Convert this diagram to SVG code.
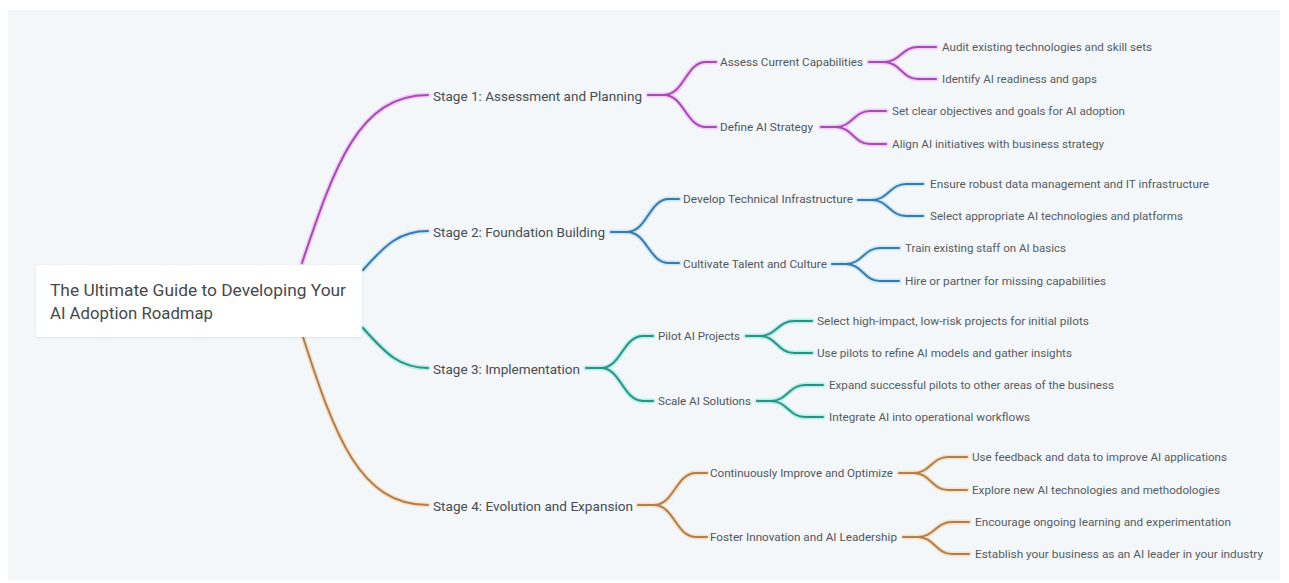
<svg xmlns="http://www.w3.org/2000/svg" xmlns:xlink="http://www.w3.org/1999/xlink" width="1289" height="583" viewBox="0 0 1289 583">
<style>
text{font-family:Roboto,"Liberation Sans",Arial,sans-serif;}
.root{font-size:16px;fill:#45494e;}
.stage{font-size:13px;fill:#474c52;}
.sub{font-size:10.5px;fill:#50565c;}
.leaf{font-size:10.5px;fill:#565c62;}
.halo use, .core use{fill:none;stroke-linecap:round;stroke-linejoin:round;}
.halo{stroke-width:5;stroke-opacity:0.35;fill:none;}
.core{stroke-width:2;fill:none;}
.halo.p{stroke:#f07cf0}.core.p{stroke:#a54cb5}
.halo.b{stroke:#78c8f2}.core.b{stroke:#3d78a6}
.halo.t{stroke:#3de0c6}.core.t{stroke:#2e9282}
.halo.o{stroke:#ffb860}.core.o{stroke:#ad7f52}
</style>
<defs>
<filter id="shadow" x="-10%" y="-20%" width="120%" height="150%">
<feDropShadow dx="0" dy="1" stdDeviation="1.5" flood-color="#000" flood-opacity="0.08"/>
</filter>
<path id="m1" d="M302,263 C334,168 358,95 428,95"/>
<path id="m2" d="M363,270 C386,244 400,231 428,231"/>
<path id="m3" d="M363,328 C386,354 400,368 428,368"/>
<path id="m4" d="M303,337 C335,437 360,505 428,505"/>
<path id="s1" d="M648,95 H664 C684,95 686,62 706,62 H716 M664,95 C684,95 686,127 706,127 H716"/>
<path id="s2" d="M611,232 H627 C647,232 649,199 669,199 H679 M627,232 C647,232 649,263 669,263 H679"/>
<path id="s3" d="M586,368 H601 C621,368 623,336 643,336 H653 M601,368 C621,368 623,401 643,401 H653"/>
<path id="s4" d="M638,505 H654 C674,505 676,473 696,473 H707 M654,505 C674,505 676,537 696,537 H707"/>
<path id="a" d="M869,62 H884 C900,62 902,47 918,47 H936 M884,62 C900,62 902,79 918,79 H936"/>
<path id="bb" d="M821,127 H836 C852,127 854,111 870,111 H886 M836,127 C852,127 854,144 870,144 H886"/>
<path id="c" d="M858,200 H872 C888,200 890,184 906,184 H923 M872,200 C888,200 890,216 906,216 H923"/>
<path id="d" d="M832,264 H846 C862,264 864,248 880,248 H899 M846,264 C862,264 864,281 880,281 H899"/>
<path id="e" d="M746,336 H760 C776,336 778,321 794,321 H812 M760,336 C776,336 778,353 794,353 H812"/>
<path id="f" d="M757,401 H771 C787,401 789,385 805,385 H823 M771,401 C787,401 789,417 805,417 H823"/>
<path id="g" d="M899,473 H914 C930,473 932,457 948,457 H967 M914,473 C930,473 932,490 948,490 H967"/>
<path id="h" d="M903,537 H918 C934,537 936,522 952,522 H969 M918,537 C934,537 936,554 952,554 H969"/>
</defs>
<rect x="0" y="0" width="1289" height="583" fill="#ffffff"/>
<rect x="8" y="10" width="1272" height="570" fill="#f3f7fa"/>
<g id="connectors">
<g class="halo p"><use href="#m1"/><use href="#s1"/><use href="#a"/><use href="#bb"/></g>
<g class="core p"><use href="#m1"/><use href="#s1"/><use href="#a"/><use href="#bb"/></g>
<g class="halo b"><use href="#m2"/><use href="#s2"/><use href="#c"/><use href="#d"/></g>
<g class="core b"><use href="#m2"/><use href="#s2"/><use href="#c"/><use href="#d"/></g>
<g class="halo t"><use href="#m3"/><use href="#s3"/><use href="#e"/><use href="#f"/></g>
<g class="core t"><use href="#m3"/><use href="#s3"/><use href="#e"/><use href="#f"/></g>
<g class="halo o"><use href="#m4"/><use href="#s4"/><use href="#g"/><use href="#h"/></g>
<g class="core o"><use href="#m4"/><use href="#s4"/><use href="#g"/><use href="#h"/></g>
</g>
<g id="root">
<rect x="36" y="265" width="326" height="72" rx="3" fill="#ffffff" filter="url(#shadow)"/>
<text class="root" x="50" y="296" textLength="296" lengthAdjust="spacingAndGlyphs">The Ultimate Guide to Developing Your</text>
<text class="root" x="50" y="319" textLength="163" lengthAdjust="spacingAndGlyphs">AI Adoption Roadmap</text>
</g>
<g id="stage1"><text class="stage" x="433" y="100.5" textLength="209" lengthAdjust="spacingAndGlyphs">Stage 1: Assessment and Planning</text></g>
<g id="stage2"><text class="stage" x="433" y="236.5" textLength="172" lengthAdjust="spacingAndGlyphs">Stage 2: Foundation Building</text></g>
<g id="stage3"><text class="stage" x="433" y="373.5" textLength="147" lengthAdjust="spacingAndGlyphs">Stage 3: Implementation</text></g>
<g id="stage4"><text class="stage" x="433" y="510.5" textLength="200" lengthAdjust="spacingAndGlyphs">Stage 4: Evolution and Expansion</text></g>
<g id="s1a"><text class="sub" x="720" y="65.7" textLength="143" lengthAdjust="spacingAndGlyphs">Assess Current Capabilities</text></g>
<g id="s1b"><text class="sub" x="720" y="130.7" textLength="93" lengthAdjust="spacingAndGlyphs">Define AI Strategy</text></g>
<g id="s2a"><text class="sub" x="683" y="202.7" textLength="170" lengthAdjust="spacingAndGlyphs">Develop Technical Infrastructure</text></g>
<g id="s2b"><text class="sub" x="683" y="267.7" textLength="144" lengthAdjust="spacingAndGlyphs">Cultivate Talent and Culture</text></g>
<g id="s3a"><text class="sub" x="658" y="339.7" textLength="82" lengthAdjust="spacingAndGlyphs">Pilot AI Projects</text></g>
<g id="s3b"><text class="sub" x="658" y="404.7" textLength="93" lengthAdjust="spacingAndGlyphs">Scale AI Solutions</text></g>
<g id="s4a"><text class="sub" x="710" y="476.7" textLength="183" lengthAdjust="spacingAndGlyphs">Continuously Improve and Optimize</text></g>
<g id="s4b"><text class="sub" x="710" y="540.7" textLength="187" lengthAdjust="spacingAndGlyphs">Foster Innovation and AI Leadership</text></g>
<g id="l1"><text class="leaf" x="942" y="50.7" textLength="210" lengthAdjust="spacingAndGlyphs">Audit existing technologies and skill sets</text></g>
<g id="l2"><text class="leaf" x="942" y="82.7" textLength="155" lengthAdjust="spacingAndGlyphs">Identify AI readiness and gaps</text></g>
<g id="l3"><text class="leaf" x="892" y="114.7" textLength="233" lengthAdjust="spacingAndGlyphs">Set clear objectives and goals for AI adoption</text></g>
<g id="l4"><text class="leaf" x="892" y="147.7" textLength="212" lengthAdjust="spacingAndGlyphs">Align AI initiatives with business strategy</text></g>
<g id="l5"><text class="leaf" x="930" y="187.7" textLength="279" lengthAdjust="spacingAndGlyphs">Ensure robust data management and IT infrastructure</text></g>
<g id="l6"><text class="leaf" x="930" y="219.7" textLength="253" lengthAdjust="spacingAndGlyphs">Select appropriate AI technologies and platforms</text></g>
<g id="l7"><text class="leaf" x="905" y="251.7" textLength="161" lengthAdjust="spacingAndGlyphs">Train existing staff on AI basics</text></g>
<g id="l8"><text class="leaf" x="905" y="284.7" textLength="201" lengthAdjust="spacingAndGlyphs">Hire or partner for missing capabilities</text></g>
<g id="l9"><text class="leaf" x="817" y="324.7" textLength="272" lengthAdjust="spacingAndGlyphs">Select high-impact, low-risk projects for initial pilots</text></g>
<g id="l10"><text class="leaf" x="817" y="356.7" textLength="255" lengthAdjust="spacingAndGlyphs">Use pilots to refine AI models and gather insights</text></g>
<g id="l11"><text class="leaf" x="829" y="388.7" textLength="285" lengthAdjust="spacingAndGlyphs">Expand successful pilots to other areas of the business</text></g>
<g id="l12"><text class="leaf" x="829" y="420.7" textLength="201" lengthAdjust="spacingAndGlyphs">Integrate AI into operational workflows</text></g>
<g id="l13"><text class="leaf" x="972" y="460.7" textLength="255" lengthAdjust="spacingAndGlyphs">Use feedback and data to improve AI applications</text></g>
<g id="l14"><text class="leaf" x="972" y="493.7" textLength="248" lengthAdjust="spacingAndGlyphs">Explore new AI technologies and methodologies</text></g>
<g id="l15"><text class="leaf" x="975" y="525.7" textLength="256" lengthAdjust="spacingAndGlyphs">Encourage ongoing learning and experimentation</text></g>
<g id="l16"><text class="leaf" x="975" y="557.7" textLength="288" lengthAdjust="spacingAndGlyphs">Establish your business as an AI leader in your industry</text></g>
</svg>
